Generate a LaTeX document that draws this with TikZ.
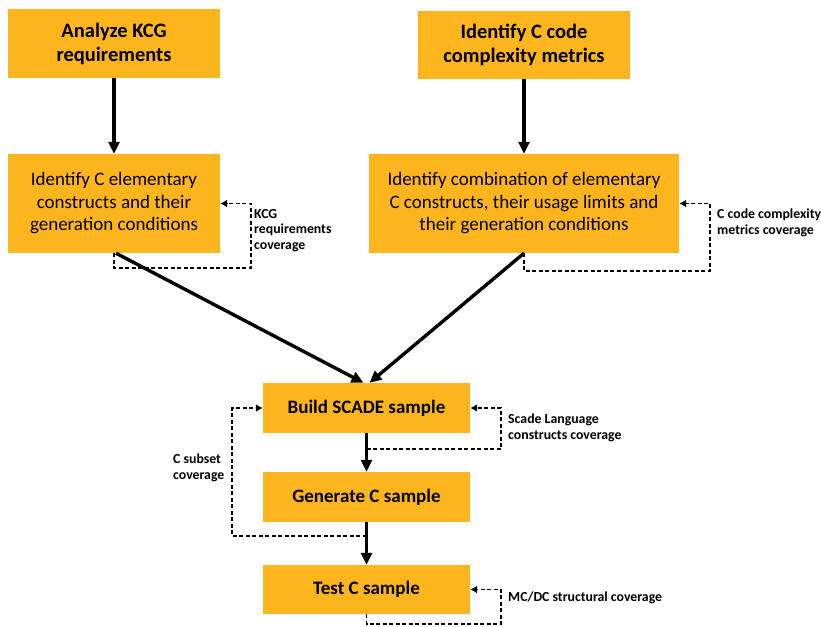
\documentclass[tikz,border=0pt]{standalone}
\usepackage{fontspec}
\setmainfont{Carlito}
\usetikzlibrary{arrows.meta}
\definecolor{stepfill}{RGB}{252,181,28}
\begin{document}
\begin{tikzpicture}[x=1pt,y=-1pt,
  box/.style={rectangle, fill=stepfill, inner sep=0pt, align=center},
  headbox/.style={box, font=\fontsize{20.5}{24}\selectfont\bfseries},
  taskbox/.style={box, font=\fontsize{19}{22.5}\selectfont},
  samplebox/.style={box, font=\fontsize{19}{22}\selectfont\bfseries},
  flow/.style={line width=3.4pt, -{Triangle[length=12pt,width=11pt]}},
  loop/.style={line width=1.3pt, dash pattern=on 4pt off 2.5pt, -{Latex[length=7pt,width=8pt]}},
  note/.style={font=\fontsize{13.8}{15.5}\selectfont\bfseries, align=left, inner sep=0pt}]
\useasboundingbox (0,0) rectangle (821,626);

% process steps
\node[headbox, minimum width=212pt, minimum height=68pt] (A) at (114,43.5) {Analyze KCG\\requirements};
\node[headbox, minimum width=212pt, minimum height=68pt] (B) at (524,45) {Identify C code\\complexity metrics};
\node[taskbox, minimum width=212pt, minimum height=99pt] (C) at (114,203.5) {Identify C elementary\\constructs and their\\generation conditions};
\node[taskbox, minimum width=310pt, minimum height=99pt] (D) at (524,203.5) {Identify combination of elementary\\C constructs, their usage limits and\\their generation conditions};
\node[samplebox, minimum width=207pt, minimum height=50pt] (E) at (366.5,408) {Build SCADE sample};
\node[samplebox, minimum width=207pt, minimum height=50pt] (F) at (366.5,497) {Generate C sample};
\node[samplebox, minimum width=207pt, minimum height=49pt] (G) at (366.5,589.5) {Test C sample};

% main flow
\draw[flow] (A.south) -- (A.south |- C.north);
\draw[flow] (B.south) -- (B.south |- D.north);
\draw[flow] ([xshift=2pt]C.south) -- ([xshift=-3pt]E.north);
\draw[flow] (D.south) -- ([xshift=3pt]E.north);
\draw[flow] (E.south) -- (F.north);
\draw[flow] (F.south) -- (G.north);

% coverage feedback loops
\coordinate (cC) at (251,268);
\coordinate (cD) at (710,271);
\coordinate (eTap) at (366.5,449);
\coordinate (cE) at (501,449);
\coordinate (fTap) at (366.5,536);
\coordinate (cF) at (232,536);
\coordinate (cG) at (501,624);

\draw[loop] (C.south) |- (cC) |- (C.east);
\draw[loop] (D.south) |- (cD) |- (D.east);
\draw[loop] (eTap) -- (cE) |- (E.east);
\draw[loop] (fTap) -- (cF) |- (E.west);
\draw[loop] (G.south) |- (cG) |- (G.east);

% coverage labels
\node[note, anchor=north west] (nC) at (254,209) {KCG\\requirements\\coverage};
\node[note, anchor=north west] (nD) at (717,209) {C code complexity\\metrics coverage};
\node[note, anchor=north west] (nE) at (508,414) {Scade Language\\constructs coverage};
\node[note, anchor=north west] (nF) at (173,454) {C subset\\coverage};
\node[note, anchor=north west] (nG) at (508,592) {MC/DC structural coverage};
\end{tikzpicture}
\end{document}
